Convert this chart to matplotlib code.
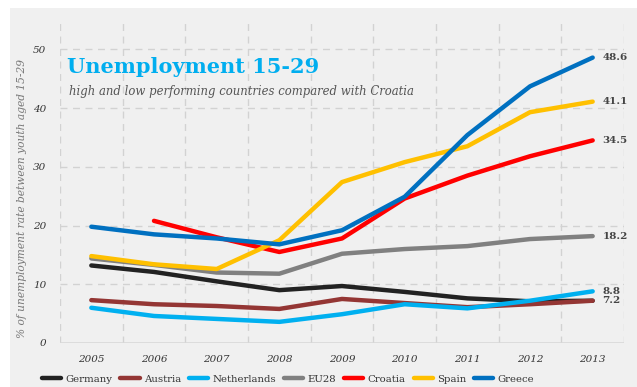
import matplotlib
matplotlib.use("Agg")
import matplotlib.pyplot as plt
from matplotlib.patches import Rectangle

years = [2005, 2006, 2007, 2008, 2009, 2010, 2011, 2012, 2013]
germany = [13.2, 12.1, 10.5, 9.0, 9.7, 8.7, 7.6, 7.1, 7.2]
austria = [7.3, 6.6, 6.3, 5.8, 7.5, 6.8, 6.1, 6.6, 7.2]
netherlands = [6.0, 4.6, 4.1, 3.6, 4.9, 6.6, 5.9, 7.2, 8.8]
eu28 = [14.4, 13.3, 12.0, 11.8, 15.2, 16.0, 16.5, 17.7, 18.2]
croatia_years = [2006, 2007, 2008, 2009, 2010, 2011, 2012, 2013]
croatia = [20.8, 18.0, 15.5, 17.8, 24.6, 28.5, 31.8, 34.5]
spain = [14.8, 13.4, 12.6, 17.5, 27.4, 30.8, 33.5, 39.3, 41.1]
greece = [19.8, 18.5, 17.8, 16.8, 19.2, 24.9, 35.4, 43.7, 48.6]

series_names = ["Germany", "Austria", "Netherlands", "EU28", "Croatia", "Spain", "Greece"]
colors = ["#222222", "#943634", "#00b0f0", "#808080", "#ff0000", "#ffc000", "#0070c0"]
end_labels = {"Greece": "48.6", "Spain": "41.1", "Croatia": "34.5", "EU28": "18.2",
              "Netherlands": "8.8", "Austria": "7.2"}
yticks = [0, 10, 20, 30, 40, 50]

W, H = 637, 387
fig = plt.figure(figsize=(W / 100, H / 100), dpi=100)
fig.patch.set_facecolor("white")
bg = Rectangle((10 / W, 0), 1 - 10 / W, 1 - 8 / H, transform=fig.transFigure,
               facecolor="#f0f0f0", edgecolor="none", zorder=-10)
fig.add_artist(bg)

ax = fig.add_axes([60 / W, 1 - 343 / H, (624 - 60) / W, (343 - 20) / H])
ax.set_zorder(1)
ax.set_facecolor("none")
ax.set_xlim(2004.5, 2013.5)
ax.set_ylim(0, 55)

# grid
for gx in [y + 0.5 for y in range(2004, 2014)]:
    ax.axvline(gx, color="#d2d2d2", lw=1.0, ls=(0, (5, 4)), zorder=1)
for gy in yticks[1:]:
    ax.axhline(gy, color="#d2d2d2", lw=1.0, ls=(0, (5, 4)), zorder=1)
ax.axhline(0, color="#d8d8d8", lw=1.2, zorder=1)

for s in ax.spines.values():
    s.set_visible(False)

data = {"Germany": (years, germany), "Austria": (years, austria),
        "Netherlands": (years, netherlands), "EU28": (years, eu28),
        "Croatia": (croatia_years, croatia), "Spain": (years, spain),
        "Greece": (years, greece)}

handles = []
for name, c in zip(series_names, colors):
    xs, ys = data[name]
    h, = ax.plot(xs, ys, color=c, lw=3.2, solid_capstyle="round",
                 solid_joinstyle="round", zorder=3, label=name)
    handles.append(h)
    if name in end_labels:
        ax.annotate(end_labels[name], (xs[-1], ys[-1]), xytext=(7, 0),
                    textcoords="offset points", va="center", ha="left",
                    fontsize=7.5, fontweight="bold", family="DejaVu Serif",
                    color="#444444")

ax.set_xticks(years)
ax.set_xticklabels([str(y) for y in years], fontsize=7.5, style="italic",
                   family="DejaVu Serif", color="#333333")
ax.set_yticks(yticks)
ax.set_yticklabels([str(v) for v in yticks], fontsize=7.5, style="italic",
                   family="DejaVu Serif", color="#333333")
ax.tick_params(axis="both", length=0)
ax.tick_params(axis="x", pad=9)
ax.tick_params(axis="y", pad=10)

fig.text(22 / W, 1 - 198 / H, "% of unemployment rate between youth aged 15-29",
         rotation=90, ha="center", va="center", fontsize=7.7, style="italic",
         family="DejaVu Serif", color="#777777")

fig.text(67 / W, 1 - 67 / H, "Unemployment 15-29", fontsize=15, fontweight="bold",
         family="DejaVu Serif", color="#00aeef", ha="left", va="center")
fig.text(69 / W, 1 - 92 / H, "high and low performing countries compared with Croatia",
         fontsize=8.4, style="italic", family="DejaVu Serif", color="#555555",
         ha="left", va="center")

leg = fig.legend(handles=handles, loc="center", bbox_to_anchor=(288 / W, 1 - 379 / H),
                 ncol=7, frameon=False, handlelength=1.9,
                 handletextpad=0.4, columnspacing=0.8,
                 prop={"family": "DejaVu Serif", "size": 7.3})
for t in leg.get_texts():
    t.set_color("#333333")

fig.savefig("out.png", dpi=100)
